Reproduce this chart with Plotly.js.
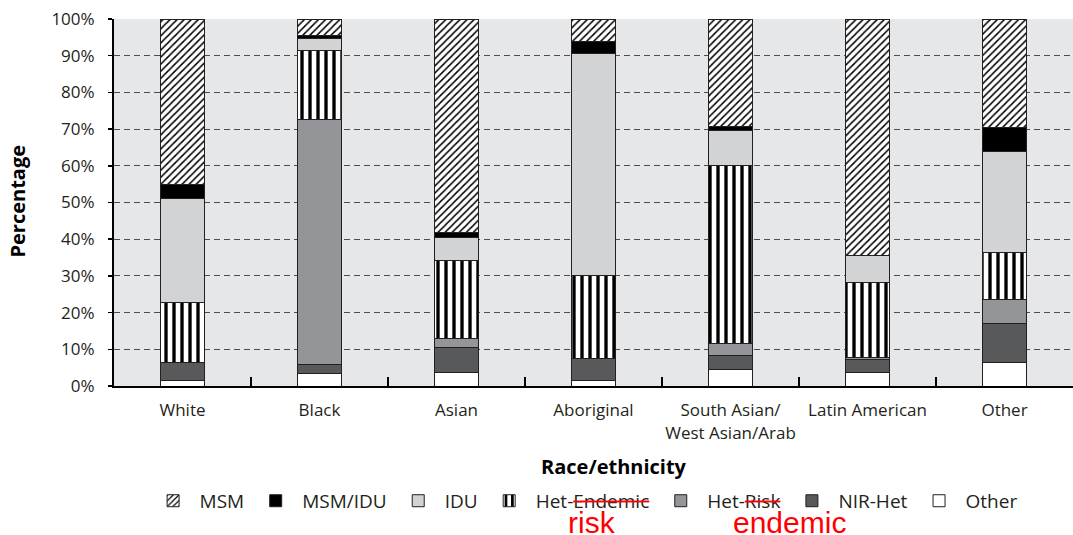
<!DOCTYPE html>
<html>
<head>
<meta charset="utf-8">
<script src="https://cdn.plot.ly/plotly-3.0.1.min.js"></script>
<style>
  html, body { margin: 0; padding: 0; background: #ffffff; }
  #chart { width: 1073px; height: 535px; }
</style>
</head>
<body>
<div id="chart"></div>
<script>
// ---- Data (percent of cases by exposure category) ----
var categories = ['White', 'Black', 'Asian', 'Aboriginal', 'South Asian/<br>West Asian/Arab', 'Latin American', 'Other'];
var otherVals      = [1.6, 3.3, 3.6, 1.5, 4.4, 3.6, 6.5];
var nirHetVals     = [4.9, 2.5, 6.9, 5.9, 3.8, 3.5, 10.6];
var hetRiskVals    = [0, 66.7, 2.5, 0, 3.3, 0.7, 6.4];
var hetEndemicVals = [16.3, 18.9, 21.1, 22.7, 48.5, 20.5, 12.9];
var iduVals        = [28.4, 3.2, 6.4, 60.4, 9.6, 7.2, 27.5];
var msmIduVals     = [3.6, 0.9, 1.3, 3.3, 1.2, 0, 6.6];
var msmVals        = [45.2, 4.5, 58.2, 6.2, 29.2, 64.5, 29.5];

var seriesNames = {
  msm: 'MSM',
  msmIdu: 'MSM/IDU',
  idu: 'IDU',
  hetEndemic: 'Het-<span style="text-decoration:line-through;fill:#ff0000"><span style="fill:#231f20">Endemic</span></span>',
  hetRisk: 'Het-<span style="text-decoration:line-through;fill:#ff0000"><span style="fill:#231f20">Risk</span></span>',
  nirHet: 'NIR-Het',
  other: 'Other'
};
var yTicks = [0, 10, 20, 30, 40, 50, 60, 70, 80, 90, 100];

var INK = '#231f20';
var outline = { color: INK, width: 1 };

function bar(name, vals, color, pattern) {
  var m = { color: color, line: outline };
  if (pattern) m.pattern = pattern;
  return { type: 'bar', name: name, x: categories, y: vals, marker: m, hoverinfo: 'x+y+name' };
}

var traces = [
  bar(seriesNames.other, otherVals, '#ffffff'),
  bar(seriesNames.nirHet, nirHetVals, '#58595b'),
  bar(seriesNames.hetRisk, hetRiskVals, '#939598'),
  bar(seriesNames.hetEndemic, hetEndemicVals, '#ffffff',
      { shape: '|', bgcolor: '#ffffff', fgcolor: '#000000', size: 8, solidity: 0.42, fillmode: 'replace' }),
  bar(seriesNames.idu, iduVals, '#d1d3d4'),
  bar(seriesNames.msmIdu, msmIduVals, '#000000'),
  bar(seriesNames.msm, msmVals, '#ffffff',
      { shape: '/', bgcolor: '#ffffff', fgcolor: '#000000', size: 5, solidity: 0.3, fillmode: 'replace' })
];

var FONT = '"Open Sans", "Noto Sans", sans-serif';

var layout = {
  width: 1073, height: 535,
  margin: { l: 114, r: 0, t: 19, b: 149, pad: 0 },
  paper_bgcolor: '#ffffff',
  plot_bgcolor: '#e6e7e8',
  barmode: 'stack',
  bargap: 0.68,
  font: { family: FONT, size: 17, color: INK },
  showlegend: true,
  legend: {
    orientation: 'h',
    traceorder: 'reversed',
    x: 0.034, xanchor: 'left',
    y: -0.313, yanchor: 'middle',
    itemwidth: 43,
    font: { family: FONT, size: 19, color: INK },
    bgcolor: 'rgba(0,0,0,0)'
  },
  xaxis: {
    type: 'category',
    showgrid: false,
    showline: true, linecolor: '#000000', linewidth: 2,
    ticks: 'inside', tickson: 'boundaries', ticklen: 9, tickwidth: 2, tickcolor: '#000000',
    tickangle: 0,
    tickfont: { family: FONT, size: 17, color: INK },
    ticklabelstandoff: 8,
    zeroline: false,
    fixedrange: true
  },
  yaxis: {
    range: [0, 100],
    tickvals: yTicks,
    ticktext: yTicks.map(function (v) { return v + '%'; }),
    showgrid: true, gridcolor: '#4d4d4f', gridwidth: 1.2, griddash: '6px,4px',
    showline: true, linecolor: '#000000', linewidth: 2,
    ticks: 'outside', ticklen: 4, tickwidth: 1.5, tickcolor: '#000000',
    tickfont: { family: FONT, size: 17, color: INK },
    ticklabelstandoff: 10,
    zeroline: false,
    fixedrange: true
  },
  annotations: [
    { xref: 'paper', yref: 'paper', x: -0.1001, y: 0.5027, xanchor: 'center', yanchor: 'middle',
      text: '<b>Percentage</b>', textangle: -90, showarrow: false,
      font: { family: FONT, size: 20, color: '#000000' } },
    { xref: 'paper', yref: 'paper', x: 0.5209, y: -0.218, xanchor: 'center', yanchor: 'middle',
      text: '<b>Race/ethnicity</b>', showarrow: false,
      font: { family: FONT, size: 20, color: '#000000' } },
    { xref: 'paper', yref: 'paper', x: 0.498, y: -0.372, xanchor: 'center', yanchor: 'middle',
      text: 'risk', showarrow: false,
      font: { family: '"Liberation Sans", Arial, sans-serif', size: 30, color: '#ff0000' } },
    { xref: 'paper', yref: 'paper', x: 0.7044, y: -0.372, xanchor: 'center', yanchor: 'middle',
      text: 'endemic', showarrow: false,
      font: { family: '"Liberation Sans", Arial, sans-serif', size: 30, color: '#ff0000' } }
  ]
};

Plotly.newPlot('chart', traces, layout, { displayModeBar: false, staticPlot: true });
</script>
</body>
</html>
